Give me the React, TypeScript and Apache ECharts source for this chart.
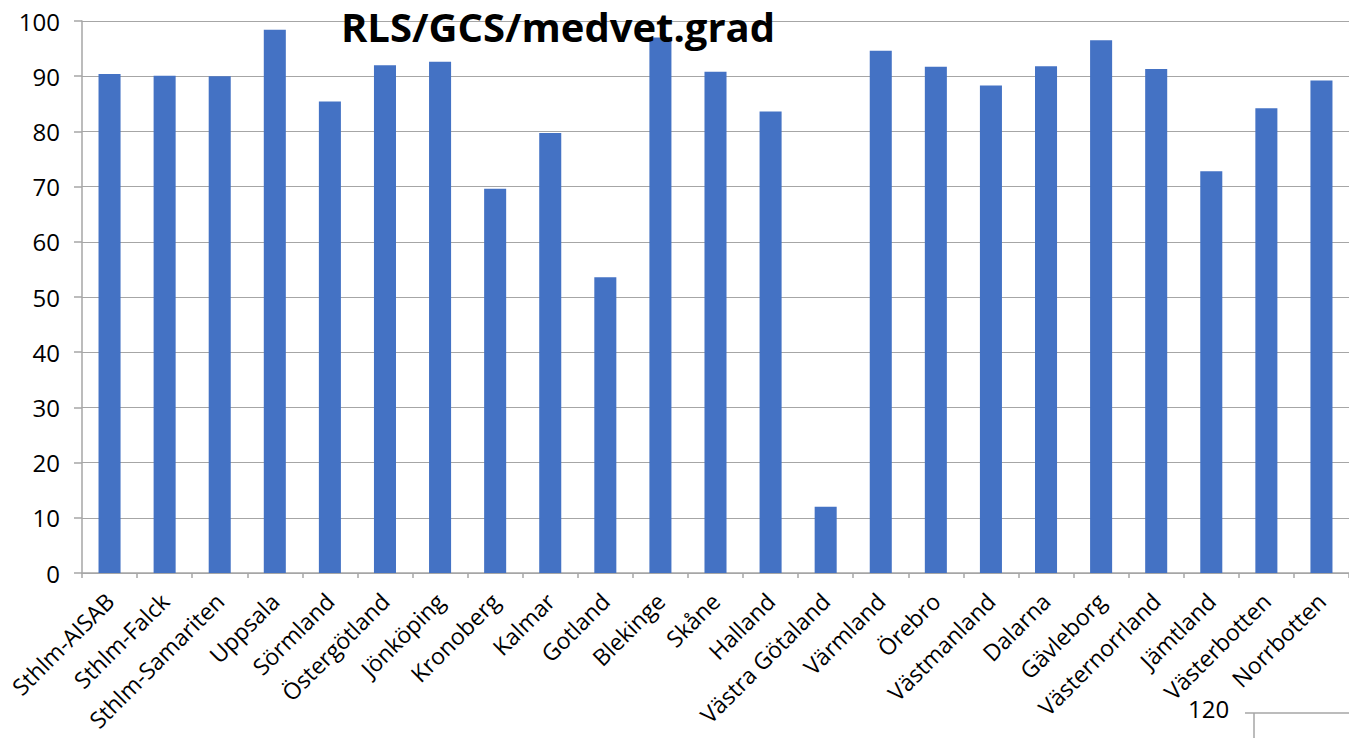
import React, { useEffect, useRef } from "react";
import * as echarts from "echarts";

const categories = [
  "Sthlm-AISAB", "Sthlm-Falck", "Sthlm-Samariten", "Uppsala", "Sörmland", "Östergötland",
  "Jönköping", "Kronoberg", "Kalmar", "Gotland", "Blekinge", "Skåne", "Halland",
  "Västra Götaland", "Värmland", "Örebro", "Västmanland", "Dalarna", "Gävleborg",
  "Västernorrland", "Jämtland", "Västerbotten", "Norrbotten",
];
const values = [
  90.4, 90.1, 90.0, 98.4, 85.4, 92.0, 92.6, 69.6, 79.7, 53.6, 97.0, 90.8, 83.6,
  12.0, 94.6, 91.7, 88.3, 91.8, 96.5, 91.3, 72.8, 84.2, 89.2,
];
const yTicks = { min: 0, max: 100, interval: 10 };
const titleText = "RLS/GCS/medvet.grad";
const strayLabel = "120";

export default function App() {
  const ref = useRef<HTMLDivElement>(null);
  useEffect(() => {
    document.body.style.margin = "0";
    const chart = echarts.init(ref.current!, null, { renderer: "svg" });
    const font = "Open Sans";
    chart.setOption({
      animation: false,
      backgroundColor: "#ffffff",
      title: {
        text: titleText,
        left: 553,
        top: 1,
        z: 10,
        textAlign: "center",
        textStyle: { fontFamily: font, fontSize: 40, fontWeight: "bold", color: "#000" },
      },
      grid: { left: 82, right: -7, top: 21, bottom: 165, containLabel: false },
      xAxis: {
        type: "category",
        data: categories,
        boundaryGap: true,
        axisLine: { show: true, lineStyle: { color: "#a6a6a6", width: 1.5 } },
        axisTick: { show: true, alignWithLabel: false, length: 5, lineStyle: { color: "#a6a6a6", width: 1.5 } },
        axisLabel: {
          interval: 0,
          rotate: 45,
          fontFamily: font,
          fontSize: 23,
          color: "#000",
          margin: 24,
        },
      },
      yAxis: {
        type: "value",
        min: yTicks.min,
        max: yTicks.max,
        interval: yTicks.interval,
        axisLine: { show: true, lineStyle: { color: "#a6a6a6", width: 1.5 } },
        axisTick: { show: true, length: 8, lineStyle: { color: "#a6a6a6", width: 1.5 } },
        splitLine: { show: true, lineStyle: { color: "#a6a6a6", width: 1 } },
        axisLabel: { fontFamily: font, fontSize: 24, color: "#000", margin: 22 },
      },
      series: [
        {
          type: "bar",
          data: values,
          barWidth: "40%",
          itemStyle: { color: "#4472c4" },
        },
      ],
      graphic: [
        {
          type: "text",
          left: 1188,
          top: 696,
          style: { text: strayLabel, fontFamily: font, fontSize: 24, fill: "#000" },
        },
        {
          type: "line",
          shape: { x1: 1245, y1: 713, x2: 1349, y2: 713 },
          style: { stroke: "#a6a6a6", lineWidth: 1.5 },
        },
        {
          type: "line",
          shape: { x1: 1254, y1: 713, x2: 1254, y2: 738 },
          style: { stroke: "#a6a6a6", lineWidth: 1.5 },
        },
      ],
    });
    return () => chart.dispose();
  }, []);
  return <div ref={ref} style={{ width: 1349, height: 738 }} />;
}
